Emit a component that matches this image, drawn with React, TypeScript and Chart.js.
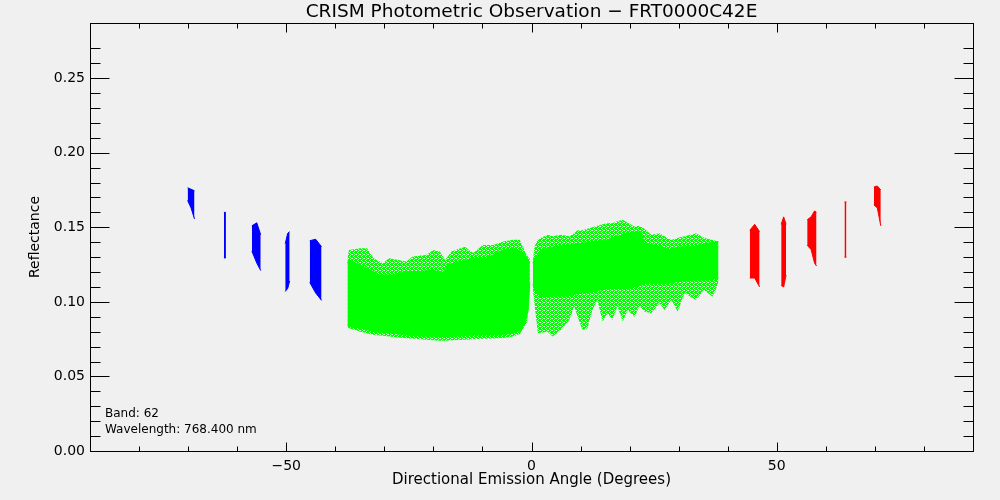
import { useEffect, useRef } from "react";
import { Chart, registerables } from "chart.js";

Chart.register(...registerables);

const FONT = "'DejaVu Sans', sans-serif";
const GREEN = "#00ff00";

const title = "CRISM Photometric Observation \u2212 FRT0000C42E";
const xTitle = "Directional Emission Angle (Degrees)";
const yTitle = "Reflectance";
const infoLines = ["Band: 62", "Wavelength: 768.400 nm"];

// left half of the cloud (emission angle < 0): dense core and sparse fringe
const leftCoreX = [-37.5, -37.2, -34.9, -32.2, -31.6, -28.2, -25.5, -22.8, -20.0, -18.0, -17.0, -14.6, -11.9, -9.2, -6.5, -3.75, -2.04, -1.0, -0.68, -0.35];
const leftCoreLo = [0.084, 0.0834, 0.0825, 0.0801, 0.08, 0.079, 0.0778, 0.0772, 0.077, 0.0767, 0.0768, 0.0772, 0.0778, 0.0778, 0.0778, 0.079, 0.0812, 0.09, 0.0946, 0.113];
const leftCoreHi = [0.126, 0.1281, 0.1248, 0.1203, 0.1181, 0.1181, 0.1203, 0.1203, 0.1214, 0.1192, 0.1248, 0.127, 0.1293, 0.1293, 0.1338, 0.136, 0.1338, 0.13, 0.1281, 0.126];
const leftHaloX = [-37.5, -37.2, -34.9, -33.5, -32.2, -30.3, -29.0, -25.5, -24.2, -21.5, -20.0, -18.7, -17.6, -16.3, -13.6, -11.9, -9.9, -7.8, -5.8, -3.7, -2.4, -1.0, -0.68, -0.35];
const leftHaloLo = [0.083, 0.0823, 0.08, 0.0789, 0.0778, 0.0772, 0.0767, 0.0756, 0.0752, 0.0746, 0.0743, 0.074, 0.074, 0.0742, 0.0746, 0.0749, 0.0752, 0.0755, 0.0758, 0.0767, 0.0785, 0.0857, 0.093, 0.112];
const leftHaloHi = [0.13, 0.1348, 0.136, 0.136, 0.1293, 0.1259, 0.1293, 0.127, 0.1304, 0.1315, 0.1348, 0.1338, 0.1281, 0.1338, 0.137, 0.1327, 0.1382, 0.1382, 0.1404, 0.1416, 0.1416, 0.1315, 0.13, 0.1293];

// right half (emission angle > 0)
const rightCoreX = [0.3, 0.6, 2.0, 4.7, 7.4, 10.1, 12.8, 15.5, 17.6, 19.6, 22.3, 23.0, 26.4, 27.8, 30.5, 33.2, 35.9, 38.1];
const rightCoreLo = [0.112, 0.108, 0.1035, 0.104, 0.104, 0.106, 0.107, 0.109, 0.109, 0.109, 0.111, 0.1125, 0.1125, 0.1125, 0.114, 0.1147, 0.1147, 0.116];
const rightCoreHi = [0.126, 0.1293, 0.135, 0.137, 0.138, 0.1393, 0.1404, 0.1415, 0.1438, 0.146, 0.147, 0.1393, 0.137, 0.135, 0.137, 0.137, 0.1393, 0.1404];
const rightHaloX = [0.3, 0.6, 1.3, 3.3, 4.3, 6.0, 7.7, 8.7, 9.4, 10.4, 11.4, 12.4, 13.4, 14.5, 15.5, 16.5, 17.5, 18.6, 19.6, 21.0, 22.0, 23.0, 24.4, 26.1, 27.1, 28.5, 29.8, 31.2, 33.5, 35.2, 36.9, 38.1];
const rightHaloLo = [0.108, 0.0991, 0.0789, 0.08, 0.0767, 0.0812, 0.0879, 0.097, 0.0901, 0.0812, 0.0823, 0.0946, 0.1013, 0.0868, 0.0923, 0.0879, 0.097, 0.0868, 0.0946, 0.0901, 0.097, 0.0935, 0.0923, 0.0991, 0.0946, 0.1013, 0.0935, 0.106, 0.1013, 0.108, 0.1035, 0.1125];
const rightHaloHi = [0.128, 0.137, 0.142, 0.145, 0.144, 0.145, 0.144, 0.146, 0.148, 0.148, 0.149, 0.15, 0.151, 0.152, 0.1527, 0.1527, 0.154, 0.155, 0.153, 0.1505, 0.151, 0.149, 0.145, 0.146, 0.144, 0.1415, 0.143, 0.144, 0.146, 0.143, 0.1415, 0.1404];

// off-nadir looks: [angle, low, high] across each strip
const blueStrips: [number, number, number][][] = [
  [[-70.1, 0.168, 0.1765], [-69.4, 0.163, 0.1755], [-68.7, 0.1556, 0.1745]],
  [[-62.7, 0.1295, 0.16], [-62.3, 0.1295, 0.16]],
  [[-57.0, 0.134, 0.151], [-56.0, 0.126, 0.153], [-55.2, 0.121, 0.145]],
  [[-50.2, 0.107, 0.139], [-49.7, 0.109, 0.146], [-49.3, 0.114, 0.147]],
  [[-45.2, 0.113, 0.141], [-44.0, 0.106, 0.142], [-42.8, 0.101, 0.137]],
];
const redStrips: [number, number, number][][] = [
  [[44.5, 0.116, 0.148], [45.5, 0.116, 0.152], [46.5, 0.11, 0.147]],
  [[50.9, 0.111, 0.152], [51.4, 0.11, 0.157], [51.9, 0.118, 0.152]],
  [[56.2, 0.138, 0.155], [57.0, 0.135, 0.157], [57.7, 0.126, 0.161], [58.1, 0.124, 0.16]],
  [[63.8, 0.13, 0.167], [64.2, 0.13, 0.167]],
  [[69.8, 0.165, 0.177], [70.5, 0.163, 0.1777], [71.2, 0.151, 0.175]],
];

// speckle texture for the sparse fringe of the cloud
function speckle(color: string) {
  const mask = ["1011", "1101", "0110", "1101"];
  const c = document.createElement("canvas");
  c.width = 4;
  c.height = 4;
  const g = c.getContext("2d")!;
  g.fillStyle = color;
  mask.forEach((row, y) => [...row].forEach((b, x) => b === "1" && g.fillRect(x, y, 1, 1)));
  return g.createPattern(c, "repeat");
}

function band(xs: number[], lo: number[], hi: number[], line: string, fill: any) {
  const base = { pointRadius: 0, borderWidth: 1, tension: 0 };
  return [
    { ...base, data: xs.map((x, i) => ({ x, y: lo[i] })), borderColor: line, fill: false },
    { ...base, data: xs.map((x, i) => ({ x, y: hi[i] })), borderColor: line, backgroundColor: fill, fill: "-1" },
  ];
}

function strip(pts: [number, number, number][], color: string) {
  return band(pts.map((p) => p[0]), pts.map((p) => p[1]), pts.map((p) => p[2]), color, color);
}

const isMult = (v: number, s: number) => Math.abs(v / s - Math.round(v / s)) < 1e-6;

const frame = {
  id: "frame",
  beforeDraw(chart: any) {
    const { ctx, width, height } = chart;
    ctx.save();
    ctx.fillStyle = "#f0f0f0";
    ctx.fillRect(0, 0, width, height);
    ctx.restore();
  },
  afterDraw(chart: any) {
    const { ctx, chartArea: a, scales } = chart;
    ctx.save();
    ctx.strokeStyle = "#000";
    ctx.lineWidth = 1;
    const L = Math.round(a.left) + 0.5, R = Math.round(a.right) + 0.5;
    const T = Math.round(a.top) + 0.5, B = Math.round(a.bottom) + 0.5;
    ctx.strokeRect(L, T, R - L, B - T);
    ctx.beginPath();
    for (const t of scales.x.ticks) {
      if (!isMult(t.value, 10)) continue;
      const len = isMult(t.value, 50) ? 9 : 5;
      const px = Math.round(scales.x.getPixelForValue(t.value)) + 0.5;
      ctx.moveTo(px, B); ctx.lineTo(px, B - len);
      ctx.moveTo(px, T); ctx.lineTo(px, T + len);
    }
    for (const t of scales.y.ticks) {
      if (!isMult(t.value, 0.01)) continue;
      const len = isMult(t.value, 0.05) ? 19 : 10;
      const py = Math.round(scales.y.getPixelForValue(t.value)) + 0.5;
      ctx.moveTo(L, py); ctx.lineTo(L + len, py);
      ctx.moveTo(R, py); ctx.lineTo(R - len, py);
    }
    ctx.stroke();
    ctx.fillStyle = "#000";
    ctx.textBaseline = "alphabetic";
    ctx.textAlign = "center";
    ctx.font = `18.5px ${FONT}`;
    ctx.fillText(title, (a.left + a.right) / 2, 17);
    ctx.textAlign = "left";
    ctx.font = `12px ${FONT}`;
    infoLines.forEach((s, i) => ctx.fillText(s, a.left + 15, a.bottom - 34 + i * 15.5));
    ctx.restore();
  },
};

export default function App() {
  const ref = useRef<HTMLCanvasElement | null>(null);
  useEffect(() => {
    if (!ref.current) return;
    const fringe = speckle(GREEN);
    const datasets: any[] = [
      ...band(leftCoreX, leftCoreLo, leftCoreHi, GREEN, GREEN),
      ...band(rightCoreX, rightCoreLo, rightCoreHi, GREEN, GREEN),
      ...band(leftHaloX, leftHaloLo, leftHaloHi, "rgba(0,0,0,0)", fringe),
      ...band(rightHaloX, rightHaloLo, rightHaloHi, "rgba(0,0,0,0)", fringe),
      ...blueStrips.flatMap((s) => strip(s, "#0000ff")),
      ...redStrips.flatMap((s) => strip(s, "#ff0000")),
    ];
    const chart = new Chart(ref.current, {
      type: "line",
      data: { datasets },
      plugins: [frame],
      options: {
        animation: false,
        responsive: false,
        layout: { padding: { top: 23, right: 27, left: 0, bottom: 0 } },
        plugins: {
          legend: { display: false },
          tooltip: { enabled: false },
          title: { display: false },
        },
        scales: {
          x: {
            type: "linear",
            min: -90,
            max: 90,
            afterFit: (s: any) => { s.height = 49; },
            border: { display: false },
            grid: { display: false, drawTicks: false },
            ticks: {
              stepSize: 10,
              autoSkip: false,
              maxRotation: 0,
              padding: 7,
              color: "#000",
              font: { family: FONT, size: 14 },
              callback: (v: any) => (isMult(v, 50) ? (v < 0 ? "\u2212" + Math.abs(v) : String(v)) : ""),
            },
            title: {
              display: true,
              text: xTitle,
              color: "#000",
              font: { family: FONT, size: 15 },
              padding: { top: 0, bottom: 10.5 },
            },
          },
          y: {
            type: "linear",
            min: 0,
            max: 0.287,
            afterFit: (s: any) => { s.width = 90; },
            border: { display: false },
            grid: { display: false, drawTicks: false },
            ticks: {
              stepSize: 0.01,
              autoSkip: false,
              padding: 5,
              color: "#000",
              font: { family: FONT, size: 14 },
              callback: (v: any) => (isMult(v, 0.05) ? Number(v).toFixed(2) : ""),
            },
            title: {
              display: true,
              text: yTitle,
              color: "#000",
              font: { family: FONT, size: 14 },
              padding: { top: 27, bottom: 0 },
            },
          },
        },
      },
    } as any);
    return () => chart.destroy();
  }, []);

  return (
    <div style={{ position: "fixed", left: 0, top: 0, width: 1000, height: 500, background: "#f0f0f0" }}>
      <canvas ref={ref} width={1000} height={500}></canvas>
    </div>
  );
}
